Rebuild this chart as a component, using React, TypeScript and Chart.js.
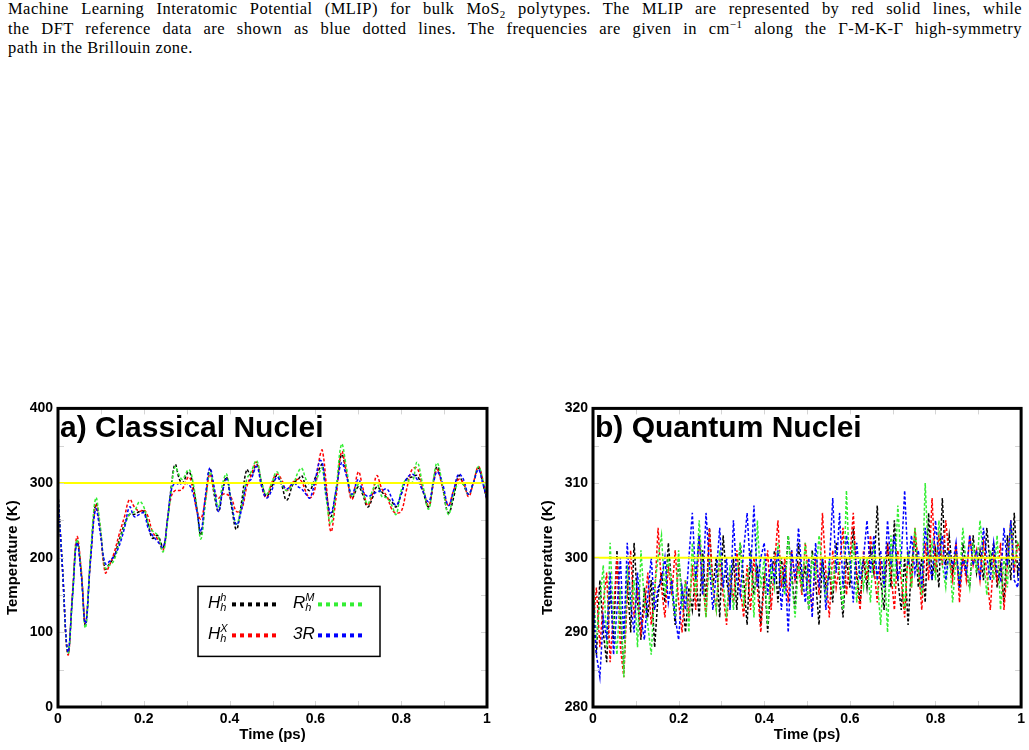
import React, { useEffect, useRef } from 'react';
import { Chart, registerables } from 'chart.js';

Chart.register(...registerables);

// ---------- a) Classical nuclei ----------
const classicalTimes = [
  0.000, 0.010, 0.023, 0.034, 0.044, 0.054, 0.064, 0.076, 0.088, 0.098,
  0.110, 0.120, 0.130, 0.142, 0.155, 0.167, 0.178, 0.190, 0.200, 0.210,
  0.220, 0.232, 0.245, 0.255, 0.264, 0.273, 0.283, 0.290, 0.305, 0.315,
  0.324, 0.333, 0.344, 0.354, 0.364, 0.374, 0.384, 0.393, 0.404, 0.416,
  0.428, 0.440, 0.450, 0.463, 0.475, 0.486, 0.498, 0.510, 0.521, 0.533,
  0.549, 0.560, 0.568, 0.578, 0.587, 0.598, 0.610, 0.616, 0.625, 0.636,
  0.648, 0.661, 0.672, 0.685, 0.700, 0.710, 0.722, 0.733, 0.743, 0.755,
  0.767, 0.778, 0.788, 0.800, 0.812, 0.825, 0.837, 0.850, 0.864, 0.875,
  0.884, 0.896, 0.910, 0.922, 0.934, 0.945, 0.957, 0.968, 0.980, 0.990,
  1.000,
];
const classicalHh = [
  285, 190, 72, 150, 222, 180, 110, 200, 272, 240,
  185, 192, 200, 222, 245, 258, 258, 262, 262, 245,
  226, 230, 214, 250, 295, 325, 305, 300, 315, 295,
  265, 230, 280, 318, 285, 262, 290, 308, 270, 238,
  275, 318, 310, 325, 300, 282, 295, 310, 298, 277,
  300, 305, 310, 295, 290, 305, 320, 325, 290, 255,
  290, 338, 315, 280, 295, 285, 268, 280, 295, 288,
  280, 275, 268, 285, 305, 308, 310, 290, 268, 300,
  322, 295, 260, 280, 310, 298, 285, 300, 320, 300,
  277,
];
const classicalHx = [
  285, 190, 70, 155, 228, 185, 112, 200, 270, 240,
  180, 190, 205, 230, 255, 278, 268, 262, 264, 255,
  235, 225, 210, 250, 282, 290, 290, 292, 308, 290,
  262, 252, 280, 312, 290, 280, 285, 285, 280, 262,
  265, 295, 310, 328, 295, 280, 300, 312, 305, 290,
  302, 305, 302, 288, 280, 290, 335, 344, 300, 235,
  280, 342, 315, 278, 315, 295, 270, 285, 310, 292,
  282, 265, 260, 262, 290, 318, 320, 295, 270, 300,
  318, 295, 270, 290, 305, 300, 282, 300, 322, 305,
  278,
];
const classicalRm = [
  285, 190, 72, 150, 224, 182, 106, 205, 280, 245,
  186, 190, 196, 218, 242, 258, 262, 275, 268, 246,
  236, 230, 208, 248, 290, 322, 310, 305, 318, 300,
  265, 225, 275, 315, 290, 268, 300, 312, 275, 245,
  270, 305, 315, 330, 300, 285, 300, 315, 300, 290,
  300, 315, 320, 305, 298, 300, 315, 320, 280, 245,
  290, 352, 322, 282, 298, 288, 272, 290, 300, 282,
  280, 270, 258, 290, 305, 300, 328, 298, 265, 305,
  327, 298, 258, 285, 300, 298, 285, 300, 322, 305,
  278,
];
const classical3R = [
  285, 190, 74, 150, 220, 178, 112, 198, 265, 235,
  192, 195, 202, 215, 240, 268, 255, 258, 260, 240,
  230, 222, 214, 250, 290, 300, 298, 300, 298, 285,
  262, 235, 285, 320, 295, 262, 290, 305, 275, 244,
  265, 300, 305, 322, 295, 280, 290, 308, 300, 292,
  300, 295, 292, 285, 280, 300, 330, 328, 285, 260,
  290, 327, 310, 285, 305, 290, 282, 285, 288, 290,
  292, 280, 270, 285, 305, 312, 305, 290, 275, 300,
  315, 300, 270, 290, 312, 305, 285, 300, 318, 300,
  278,
];
const classicalYTicks = ['0', '100', '200', '300', '400'];
const classicalYMinor = [50, 100, 150, 200, 250, 300, 350];

// ---------- b) Quantum nuclei ----------
const quantumStep = 0.008;
const quantumHh = [
  293, 287, 297, 290, 286, 296, 289, 301, 292, 285,
  297, 290, 302, 294, 289, 296, 292, 297, 288, 295,
  298, 294, 302, 296, 291, 300, 295, 290, 296, 293,
  298, 292, 301, 294, 304, 296, 300, 292, 303, 297,
  294, 300, 293, 302, 297, 291, 301, 295, 299, 291,
  298, 290, 297, 301, 294, 300, 296, 303, 298, 293,
  302, 296, 299, 293, 301, 297, 291, 300, 296, 298,
  294, 302, 297, 292, 300, 296, 304, 298, 294, 300,
  296, 301, 298, 307, 297, 293, 302, 296, 305, 297,
  293, 300, 291, 299, 303, 296, 300, 294, 306, 297,
  301, 296, 308, 299, 303, 298, 301, 296, 302, 298,
  296, 303, 298, 301, 297, 304, 299, 302, 296, 299,
  294, 303, 297, 306, 298, 301,
];
const quantumHx = [
  291, 296, 288, 294, 298, 286, 293, 300, 288, 284,
  295, 301, 292, 296, 290, 293, 298, 291, 295, 304,
  296, 292, 299, 295, 301, 294, 290, 297, 292, 299,
  293, 303, 297, 292, 304, 296, 293, 300, 295, 291,
  298, 294, 301, 296, 292, 299, 293, 300, 296, 290,
  297, 301, 293, 299, 305, 296, 300, 294, 301, 297,
  299, 295, 302, 297, 293, 300, 295, 306, 298, 292,
  301, 296, 299, 304, 295, 300, 306, 297, 293, 301,
  297, 303, 299, 294, 300, 296, 302, 298, 293, 301,
  297, 292, 301, 296, 304, 299, 293, 302, 297, 308,
  298, 303, 299, 305, 300, 297, 302, 294, 300, 297,
  303, 299, 301, 297, 302, 298, 293, 300, 297, 302,
  293, 299, 305, 298, 302, 300,
];
const quantumRm = [
  297, 289, 294, 299, 288, 302, 292, 287, 296, 284,
  299, 293, 297, 288, 301, 294, 291, 287, 296, 300,
  303, 295, 300, 296, 292, 301, 293, 297, 290, 302,
  295, 305, 298, 292, 300, 296, 293, 301, 297, 292,
  299, 293, 298, 302, 294, 297, 300, 292, 305, 296,
  300, 291, 299, 296, 302, 298, 295, 303, 297, 292,
  299, 296, 302, 293, 300, 297, 303, 298, 294, 300,
  296, 301, 298, 293, 309, 297, 302, 294, 300, 296,
  300, 294, 302, 297, 291, 300, 290, 303, 296, 307,
  299, 293, 301, 296, 304, 298, 295, 310, 299, 302,
  297, 305, 299, 296, 301, 294, 300, 297, 304, 299,
  296, 302, 298, 305, 300, 295, 301, 297, 303, 293,
  300, 296, 305, 299, 302, 301,
];
const quantum3R = [
  295, 287, 284, 292, 289, 298, 287, 293, 300, 289,
  302, 294, 290, 298, 292, 289, 295, 300, 293, 296,
  297, 300, 294, 297, 292, 289, 296, 293, 300, 306,
  297, 303, 295, 306, 299, 293, 298, 304, 296, 300,
  293, 305, 297, 295, 301, 306, 298, 307, 296, 300,
  302, 295, 300, 297, 301, 293, 299, 290, 301, 297,
  304, 298, 294, 300, 292, 302, 296, 300, 293, 299,
  308, 298, 306, 296, 303, 300, 294, 302, 297, 300,
  305, 298, 303, 297, 301, 296, 305, 299, 303, 297,
  300, 309, 299, 303, 298, 301, 296, 304, 300, 297,
  305, 300, 303, 297, 301, 299, 302, 296, 300, 298,
  303, 299, 301, 297, 304, 300, 297, 302, 298, 297,
  304, 299, 305, 297, 296, 302,
];
const quantumYTicks = ['280', '290', '300', '310', '320'];
const quantumYMinor = [285, 290, 295, 300, 305, 310, 315];

const timeTicks = ['0', '0.2', '0.4', '0.6', '0.8', '1'];
const timeMinor = [0.1, 0.2, 0.3, 0.4, 0.5, 0.6, 0.7, 0.8, 0.9];
const targetTemperature = 300;

const seriesNames = ['Hh', 'Hx', 'Rm', '3R'];
const seriesColors = ['#000000', '#ff0000', '#33ee33', '#0000ff'];

const FONT = '"Liberation Sans", Arial, sans-serif';

function line(ctx: CanvasRenderingContext2D, x1: number, y1: number, x2: number, y2: number) {
  ctx.beginPath();
  ctx.moveTo(x1, y1);
  ctx.lineTo(x2, y2);
  ctx.stroke();
}

function drawSubSup(ctx: CanvasRenderingContext2D, x: number, base: number, main: string, sup: string, sub: string) {
  ctx.font = `italic 17px ${FONT}`;
  ctx.fillText(main, x, base);
  const w = ctx.measureText(main).width;
  ctx.font = `italic 11px ${FONT}`;
  if (sup) ctx.fillText(sup, x + w, base - 7);
  if (sub) ctx.fillText(sub, x + w, base + 3);
}

function makeFramePlugin(title: string, yMinor: number[], withLegend: boolean) {
  return {
    id: 'frameDeco',
    afterDatasetsDraw(chart: any) {
      const { ctx, chartArea: a, scales } = chart;
      ctx.save();
      // faint minor tick marks inside frame
      ctx.strokeStyle = '#d4d4d4';
      ctx.lineWidth = 1;
      for (const v of timeMinor) {
        const x = Math.round(scales.x.getPixelForValue(v)) + 0.5;
        line(ctx, x, a.top, x, a.top + 6);
        line(ctx, x, a.bottom - 6, x, a.bottom);
      }
      for (const v of yMinor) {
        const y = Math.round(scales.y.getPixelForValue(v)) + 0.5;
        line(ctx, a.left, y, a.left + 6, y);
        line(ctx, a.right - 6, y, a.right, y);
      }
      // frame
      ctx.strokeStyle = '#000';
      ctx.lineWidth = 3;
      ctx.strokeRect(a.left, a.top, a.right - a.left, a.bottom - a.top);
      // panel title
      ctx.fillStyle = '#000';
      ctx.textBaseline = 'alphabetic';
      ctx.textAlign = 'left';
      ctx.font = `bold 30px ${FONT}`;
      ctx.fillText(title, a.left + 2, a.top + 29);

      if (withLegend) {
        const bx = a.left + 140;
        const by = a.top + 178;
        ctx.lineWidth = 1.5;
        ctx.strokeStyle = '#000';
        ctx.fillStyle = '#fff';
        ctx.fillRect(bx, by, 182, 70);
        ctx.strokeRect(bx, by, 182, 70);
        const entries = [
          { main: 'H', sup: 'h', sub: 'h', col: 0, row: 0, color: seriesColors[0] },
          { main: 'R', sup: 'M', sub: 'h', col: 1, row: 0, color: seriesColors[2] },
          { main: 'H', sup: 'X', sub: 'h', col: 0, row: 1, color: seriesColors[1] },
          { main: '3R', sup: '', sub: '', col: 1, row: 1, color: seriesColors[3] },
        ];
        for (const e of entries) {
          const lx = bx + (e.col === 0 ? 10 : 95);
          const base = by + (e.row === 0 ? 22 : 53);
          ctx.fillStyle = '#000';
          drawSubSup(ctx, lx, base, e.main, e.sup, e.sub);
          const dx1 = bx + (e.col === 0 ? 34 : 120);
          const dy = by + (e.row === 0 ? 18 : 49);
          ctx.strokeStyle = e.color;
          ctx.lineWidth = 4;
          ctx.setLineDash([4, 4]);
          line(ctx, dx1, dy, dx1 + 44, dy);
          ctx.setLineDash([]);
        }
      }
      ctx.restore();
    },
  };
}

function buildConfig(opts: {
  points: { x: number; y: number }[][];
  yMin: number;
  yMax: number;
  yLabels: string[];
  yMinor: number[];
  title: string;
  legend: boolean;
  yAxisWidth: number;
  rightPad: number;
  yTitlePad: number;
  tension: number;
  dash: number[];
}) {
  const datasets: any[] = [
    {
      label: 'T0',
      data: [
        { x: 0, y: targetTemperature },
        { x: 1, y: targetTemperature },
      ],
      borderColor: '#ffff00',
      borderWidth: 2,
      pointRadius: 0,
      tension: 0,
    },
  ];
  // blue on top, then green, red, black
  const order = [3, 2, 1, 0];
  for (const i of order) {
    datasets.push({
      label: seriesNames[i],
      data: opts.points[i],
      borderColor: seriesColors[i],
      borderWidth: 1.5,
      borderDash: opts.dash,
      pointRadius: 0,
      tension: opts.tension,
      fill: false,
    });
  }
  return {
    type: 'line' as const,
    data: { datasets },
    options: {
      animation: false as const,
      responsive: false,
      devicePixelRatio: 1,
      events: [],
      layout: { autoPadding: false, padding: { left: 0, right: opts.rightPad, top: 12, bottom: 0 } },
      plugins: { legend: { display: false }, tooltip: { enabled: false }, title: { display: false } },
      scales: {
        x: {
          type: 'linear' as const,
          min: 0,
          max: 1,
          grid: { display: false, drawTicks: false },
          border: { display: false },
          afterFit: (s: any) => {
            s.height = 43;
          },
          afterBuildTicks: (s: any) => {
            s.ticks = timeTicks.map((t) => ({ value: parseFloat(t) }));
          },
          ticks: {
            autoSkip: false,
            maxRotation: 0,
            padding: 4,
            color: '#000',
            font: { family: FONT, size: 14, weight: 'bold' as const },
            callback: (v: any) => timeTicks.find((t) => Math.abs(parseFloat(t) - v) < 1e-6) ?? '',
          },
          title: {
            display: true,
            text: 'Time (ps)',
            color: '#000',
            font: { family: FONT, size: 15, weight: 'bold' as const },
            padding: { top: 0, bottom: 6 },
          },
        },
        y: {
          type: 'linear' as const,
          min: opts.yMin,
          max: opts.yMax,
          grid: { display: false, drawTicks: false },
          border: { display: false },
          afterFit: (s: any) => {
            s.width = opts.yAxisWidth;
          },
          afterBuildTicks: (s: any) => {
            s.ticks = opts.yLabels.map((t) => ({ value: parseFloat(t) }));
          },
          ticks: {
            autoSkip: false,
            padding: 5,
            color: '#000',
            font: { family: FONT, size: 14, weight: 'bold' as const },
            callback: (v: any) => opts.yLabels.find((t) => Math.abs(parseFloat(t) - v) < 1e-6) ?? '',
          },
          title: {
            display: true,
            text: 'Temperature (K)',
            color: '#000',
            font: { family: FONT, size: 15, weight: 'bold' as const },
            padding: { top: opts.yTitlePad, bottom: 0 },
          },
        },
      },
    },
    plugins: [makeFramePlugin(opts.title, opts.yMinor, opts.legend)],
  };
}

function ChartCanvas({ config, left, top, width, height }: any) {
  const ref = useRef<HTMLCanvasElement | null>(null);
  useEffect(() => {
    if (!ref.current) return;
    const chart = new Chart(ref.current, config);
    return () => chart.destroy();
  }, []);
  return (
    <canvas
      ref={ref}
      width={width}
      height={height}
      style={{ position: 'absolute', left, top, width, height }}
    />
  );
}

const classicalPoints = [classicalHh, classicalHx, classicalRm, classical3R].map((s) =>
  s.map((y, i) => ({ x: classicalTimes[i], y }))
);
const quantumPoints = [quantumHh, quantumHx, quantumRm, quantum3R].map((s) =>
  s.map((y, i) => ({ x: i * quantumStep, y }))
);

const classicalConfig = buildConfig({
  points: classicalPoints,
  yMin: 0,
  yMax: 400,
  yLabels: classicalYTicks,
  yMinor: classicalYMinor,
  title: 'a) Classical Nuclei',
  legend: true,
  yAxisWidth: 58,
  rightPad: 13,
  yTitlePad: 4,
  tension: 0.4,
  dash: [3, 2],
});

const quantumConfig = buildConfig({
  points: quantumPoints,
  yMin: 280,
  yMax: 320,
  yLabels: quantumYTicks,
  yMinor: quantumYMinor,
  title: 'b) Quantum Nuclei',
  legend: false,
  yAxisWidth: 63,
  rightPad: 7,
  yTitlePad: 9,
  tension: 0,
  dash: [3, 2],
});

const lineStyle: React.CSSProperties = {
  textAlign: 'justify',
  textAlignLast: 'justify' as any,
  height: 19.5,
  whiteSpace: 'nowrap',
};
const subSup: React.CSSProperties = { fontSize: '11px', lineHeight: 0 };

export default function App() {
  return (
    <div
      style={{
        position: 'absolute',
        left: 0,
        top: 0,
        width: 1029,
        height: 750,
        background: '#fff',
        overflow: 'hidden',
      }}
    >
      <div
        style={{
          position: 'absolute',
          left: 8,
          top: -1,
          width: 1014,
          fontFamily: '"Liberation Serif", "Times New Roman", serif',
          fontSize: 16.5,
          letterSpacing: '0.45px',
          lineHeight: '19.5px',
          color: '#000',
        }}
      >
        <div style={lineStyle}>
          Machine Learning Interatomic Potential (MLIP) for bulk MoS<sub style={subSup}>2</sub> polytypes. The MLIP are
          represented by red solid lines, while
        </div>
        <div style={lineStyle}>
          the DFT reference data are shown as blue dotted lines. The frequencies are given in cm
          <sup style={subSup}>−1</sup> along the Γ-M-K-Γ high-symmetry
        </div>
        <div style={{ height: 19.5, whiteSpace: 'nowrap' }}>path in the Brillouin zone.</div>
      </div>
      <ChartCanvas config={classicalConfig} left={0} top={395} width={500} height={355} />
      <ChartCanvas config={quantumConfig} left={530} top={395} width={499} height={355} />
    </div>
  );
}
